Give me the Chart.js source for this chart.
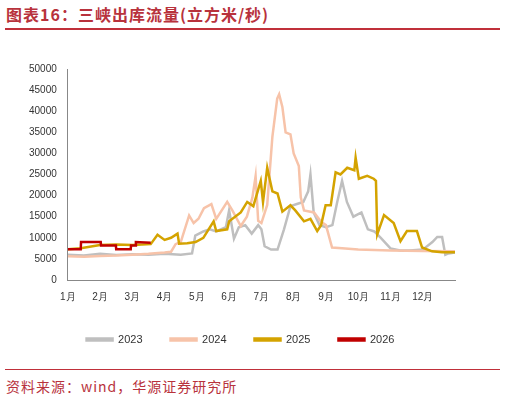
<!DOCTYPE html>
<html><head><meta charset="utf-8">
<script src="https://cdn.jsdelivr.net/npm/chart.js@4"></script>
<style>
body{margin:0;width:506px;height:403px;background:#fff;font-family:"Noto Sans CJK SC",sans-serif;position:relative;overflow:hidden}
#title{position:absolute;left:6px;top:2px;font-size:16px;font-weight:bold;color:#b8323c;letter-spacing:1px}
#l1{position:absolute;left:5px;top:28px;width:495px;height:2px;background:#c0303a}
#l2{position:absolute;left:5px;top:369px;width:495px;height:1px;background:#c0303a}
#src{position:absolute;left:6px;top:376px;font-size:14px;color:#b8323c;letter-spacing:1px}
#wrap{position:absolute;left:0;top:50px;width:480px;height:305px}
</style></head><body>
<div id="title">图表16：三峡出库流量(立方米/秒)</div>
<div id="l1"></div>
<div id="wrap"><canvas id="c"></canvas></div>
<div id="l2"></div>
<div id="src">资料来源：wind，华源证券研究所</div>
<script>
const monthLabels=["1月","2月","3月","4月","5月","6月","7月","8月","9月","10月","11月","12月"];
const seriesNames=["2023","2024","2025","2026"];
const x2023=[0,0.5,1,1.5,2,2.5,3,3.5,3.85,3.95,4.2,4.4,4.6,4.9,5.0,5.15,5.3,5.5,5.7,5.9,6.0,6.1,6.3,6.5,6.7,6.9,7.1,7.3,7.45,7.52,7.62,7.8,8.0,8.2,8.35,8.5,8.65,8.85,9.1,9.3,9.5,9.7,10.0,10.3,10.6,11.0,11.3,11.45,11.6,11.7,11.8,12];
const y2023=[6000,5800,6200,5900,6100,6000,6200,6000,6300,10500,11500,12000,11500,12500,16500,9800,12500,13000,11000,13000,12000,8000,7200,7200,12000,17500,18000,18500,21000,25000,16000,13000,12500,13000,18500,23500,18500,15000,16000,12000,11500,10000,7500,7000,7000,7200,9000,10200,10200,6000,6300,6500];
const x2024=[0,0.5,1,1.5,2,2.5,3,3.2,3.34,3.5,3.76,3.9,4.05,4.22,4.45,4.6,4.94,5.1,5.36,5.55,5.72,5.82,5.9,6.0,6.18,6.34,6.49,6.55,6.65,6.75,6.9,7.0,7.16,7.22,7.32,7.63,7.85,8.0,8.19,8.5,9,10,11,12];
const y2024=[5600,5500,5700,5800,6000,6200,6500,6700,8500,9000,15300,13500,14500,17000,18000,14500,18500,16500,12800,15000,19500,24600,14000,13500,17800,33900,43000,44000,41000,35000,34500,30000,27000,19600,16500,16000,13800,13000,7700,7500,7200,7000,6900,6800];
const x2025=[0,0.4,1,1.5,2,2.57,2.78,3.0,3.2,3.4,3.45,3.7,3.96,4.2,4.52,4.6,4.94,5.0,5.36,5.56,5.75,5.98,6.05,6.18,6.34,6.5,6.65,6.9,7.05,7.32,7.52,7.73,7.85,7.99,8.15,8.3,8.45,8.66,8.88,8.92,9.02,9.28,9.48,9.55,9.59,9.8,10.1,10.31,10.51,10.82,10.98,11.29,11.6,12];
const y2025=[7300,7500,8300,8400,8300,8500,10700,9500,10000,11000,8600,8700,9000,10000,13900,11600,12000,13900,16000,18500,17500,23500,18500,26600,21000,20500,16200,17700,16500,13900,14500,11600,13000,17700,17700,25500,25000,26600,26000,29000,24000,24700,24000,23500,10800,15400,13500,9200,11600,11600,7700,6800,6600,6600];
const x2026=[0,0.4,0.41,1.02,1.03,1.49,1.5,1.95,1.96,2.1,2.11,2.57];
const y2026=[7300,7300,9000,9000,8200,8200,7300,7300,8200,8200,9000,8800];
const colors=["#bfbfbf","#f7c3a9","#d4a300","#c00000"];
const xs=[x2023,x2024,x2025,x2026], ys=[y2023,y2024,y2025,y2026];
const drawOrder=[3,2,1,0];
const datasets=seriesNames.map((n,i)=>({label:n,data:xs[i].map((x,j)=>({x,y:ys[i][j]})),borderColor:colors[i],backgroundColor:colors[i],borderWidth:2.5,pointRadius:0,tension:0,order:drawOrder[i]}));
new Chart(document.getElementById('c'),{type:'line',data:{datasets},
options:{responsive:true,maintainAspectRatio:false,animation:false,
layout:{padding:{left:26,right:25,top:19,bottom:0}},
plugins:{legend:{position:'bottom',labels:{sort:(a,b)=>a.text.localeCompare(b.text),boxWidth:26,boxHeight:2,font:{size:11,family:'Liberation Sans'},color:'#333',padding:28}},tooltip:{enabled:false}},
scales:{x:{type:'linear',min:0,max:12,grid:{display:false},border:{color:'#888'},
ticks:{stepSize:1,autoSkip:false,callback:v=>monthLabels[v]||'',font:{size:10},color:'#333'}},
y:{min:0,max:50000,grid:{display:false},border:{color:'#888'},ticks:{stepSize:5000,callback:v=>String(v),font:{size:10,family:'Liberation Sans'},color:'#333'}}}}});
</script></body></html>
